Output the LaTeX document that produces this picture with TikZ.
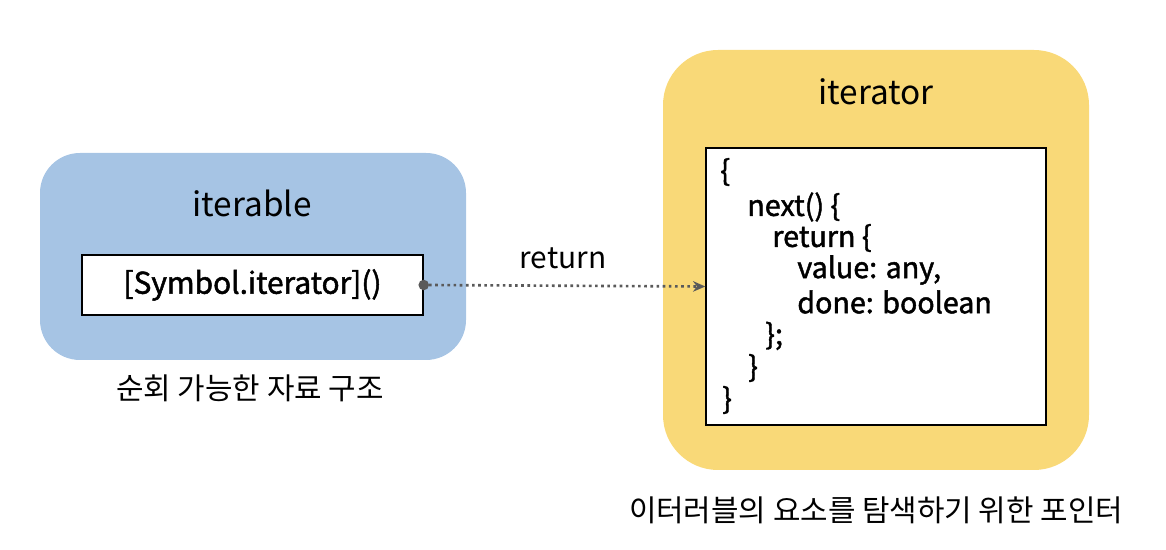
\documentclass[tikz,border=0pt]{standalone}
\usepackage{fontspec}
\setmainfont{Noto Sans CJK KR}
\newfontfamily\medfont{Noto Sans CJK KR}[FakeBold=1.6]
\usepackage{tikz}
\usetikzlibrary{arrows.meta, positioning}
\definecolor{iterblue}{RGB}{166,196,228}
\definecolor{iteryellow}{RGB}{249,217,120}
\definecolor{arrowgray}{RGB}{90,90,90}

\begin{document}
\begin{tikzpicture}[title/.style={font=\fontsize{19}{21}\selectfont},
  label/.style={font=\fontsize{17}{19}\selectfont},
  codeline/.style={font=\medfont\fontsize{16.3}{18}\selectfont, anchor=west, inner sep=0pt}]
 \useasboundingbox (0,0) rectangle (23.32,11);
 % iterable
 \draw[fill=iterblue, draw=none, rounded corners=0.8cm] (0.8,3.8) rectangle (9.32,7.94);
 \node[title] (iterable) at (5.04,6.94) {iterable};
 \node[draw, thick, fill=white, minimum width=6.82cm, minimum height=1.2cm, font=\medfont\fontsize{17}{19}\selectfont] (sym) at (5.05,5.3) {[Symbol.iterator]()};
 \node[label] (iterablecap) at (5.0,3.24) {순회 가능한 자료 구조};
 % iterator
 \draw[fill=iteryellow, draw=none, rounded corners=1.1cm] (13.26,1.6) rectangle (21.78,10.0);
 \node[title] (iterator) at (17.52,9.16) {iterator};
 \node[draw, thick, fill=white, minimum width=6.8cm, minimum height=5.54cm] (code) at (17.52,5.27) {};
 \foreach \i/\x/\y/\t in {1/14.4/7.56/\{, 2/14.94/6.86/next() \{, 3/15.44/6.24/return \{,
   4/15.94/5.6/{value: any,}, 5/15.94/4.96/done: boolean, 6/15.3/4.28/\};, 7/14.96/3.64/\}, 8/14.44/3.0/\}}{
   \node[codeline] (line\i) at (\x,\y) {\t};
 }
 \node[label] (iteratorcap) at (17.52,0.8) {이터러블의 요소를 탐색하기 위한 포인터};
 % return
 \draw[arrowgray, line width=1.5pt, dotted, {Circle[length=6pt, line width=0pt, sep=-3pt]}-{Stealth[length=7pt, width=6pt]}] (sym.east) -- (code.west);
 \node[label] (ret) at (11.26,5.84) {return};
\end{tikzpicture}
\end{document}
